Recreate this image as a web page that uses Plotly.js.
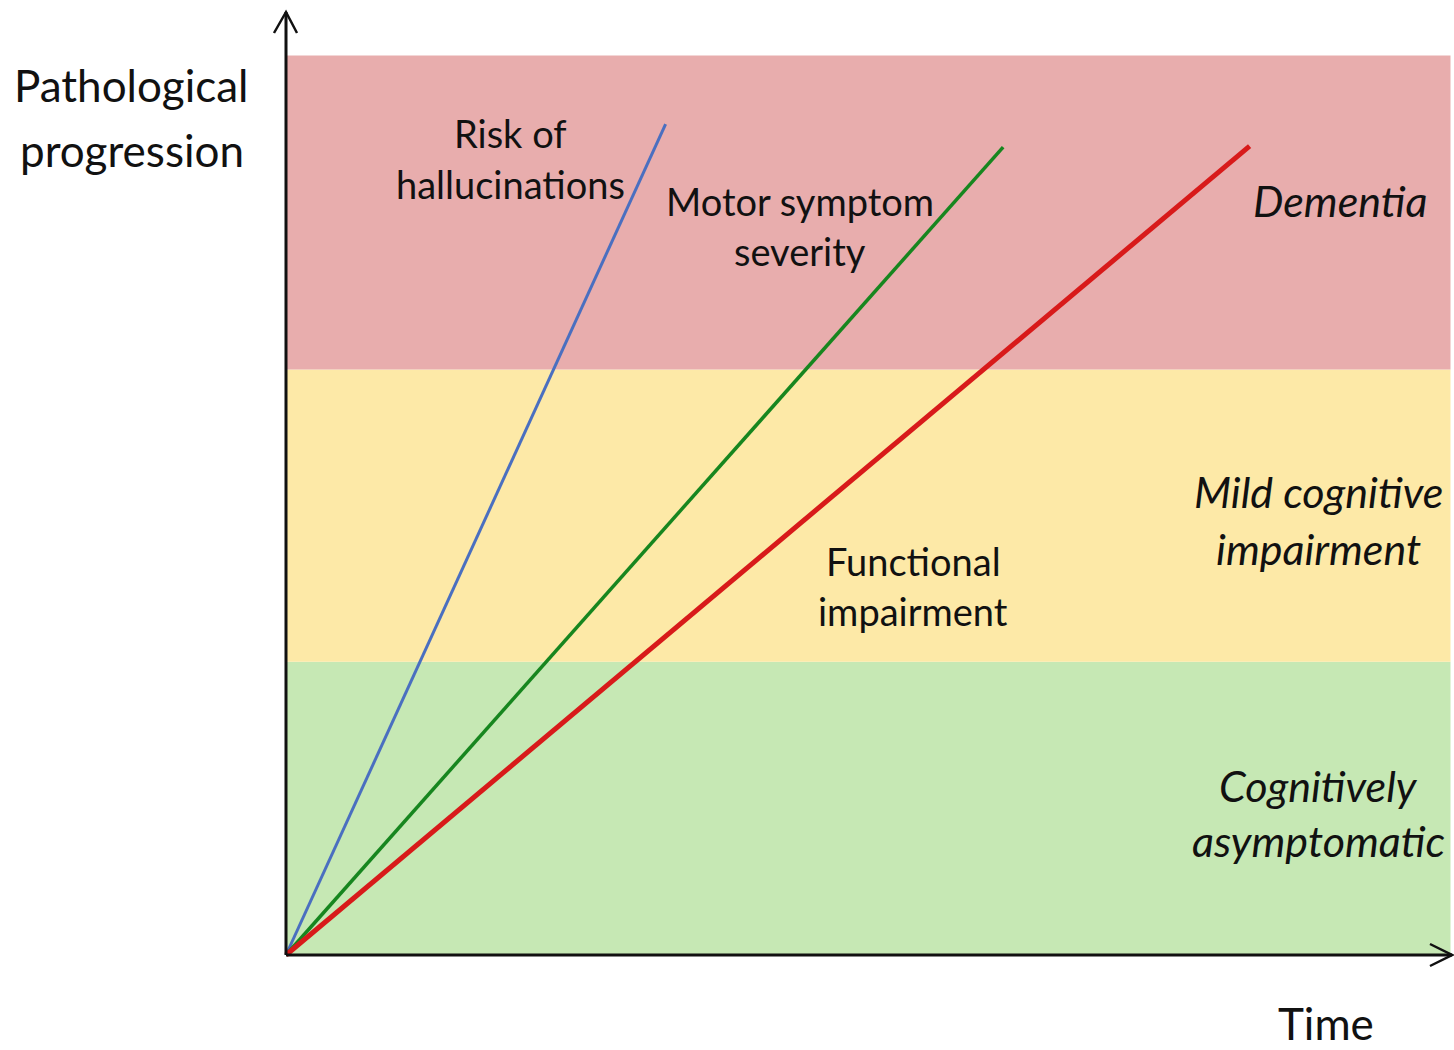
<!DOCTYPE html>
<html><head><meta charset="utf-8">
<script src="https://cdn.plot.ly/plotly-3.0.1.min.js"></script>
<style>html,body{margin:0;padding:0;background:#fff}#chart{width:1454px;height:1050px}</style>
</head><body><div id="chart"></div>
<script>
// Conceptual data (arbitrary units: time 0-10, progression 0-10)
const seriesNames = ["Risk of hallucinations", "Motor symptom severity", "Functional impairment"];
const seriesTime = [[0, 3.25], [0, 6.14], [0, 8.25]];
const seriesValue = [[0, 8.70], [0, 8.46], [0, 8.47]];
const seriesColors = ["#4a6fc0", "#17861f", "#d81a1a"];
const seriesWidths = [3, 3.5, 5];

const stageNames = ["Cognitively asymptomatic", "Mild cognitive impairment", "Dementia"];
const stageBounds = [0, 3.07, 6.13, 9.42];
const stageColors = ["#c6e8b4", "#fde9a7", "#e8adad"];
const stageEnd = 9.97;

// pixel scale: origin at (286, 955), 116.8 px per time unit, 95.5 px per progression unit
const X0 = 286, XPX = 116.8, Y0 = 955, YPX = 95.5, W = 1454, H = 1050;
const dx = p => p / XPX, dy = p => p / YPX;

const traces = seriesNames.map((n, i) => ({
  type: "scatter", mode: "lines", name: n,
  x: seriesTime[i], y: seriesValue[i],
  line: {color: seriesColors[i], width: seriesWidths[i]},
  hoverinfo: "name", cliponaxis: false
}));

const shapes = [];
stageNames.forEach((s, i) => {
  shapes.push({type: "rect", xref: "x", yref: "y", layer: "below",
    x0: 0, x1: stageEnd, y0: stageBounds[i], y1: stageBounds[i + 1],
    fillcolor: stageColors[i], line: {width: 0}});
});
const yTop = dy(Y0 - 12), xEnd = dx(1452 - X0);
const axisLine = {color: "#111", width: 3};
shapes.push({type: "line", xref: "x", yref: "y", x0: 0, y0: 0, x1: 0, y1: yTop, line: axisLine});
shapes.push({type: "line", xref: "x", yref: "y", x0: 0, y0: 0, x1: xEnd, y1: 0, line: axisLine});
shapes.push({type: "path", xref: "x", yref: "y", line: {color: "#111", width: 2.5},
  path: `M ${-dx(12)} ${yTop - dy(21)} L 0 ${yTop} L ${dx(11)} ${yTop - dy(21)}`});
shapes.push({type: "path", xref: "x", yref: "y", line: {color: "#111", width: 2.5},
  path: `M ${xEnd - dx(22)} ${dy(11)} L ${xEnd} 0 L ${xEnd - dx(22)} ${-dy(11)}`});

const FONT = "Lato, 'Open Sans', sans-serif";
const labelLines = [
  ["Risk of", 1.92, 8.61, false, 38],
  ["hallucinations", 1.92, 8.07, false, 38],
  ["Motor symptom", 4.40, 7.90, false, 38],
  ["severity", 4.40, 7.37, false, 38],
  ["Functional", 5.37, 4.13, false, 38],
  ["impairment", 5.37, 3.60, false, 38],
  ["Dementia", 9.02, 7.90, true, 43],
  ["Mild cognitive", 8.84, 4.85, true, 43],
  ["impairment", 8.84, 4.26, true, 43],
  ["Cognitively", 8.84, 1.78, true, 43],
  ["asymptomatic", 8.84, 1.20, true, 43],
  ["Pathological", -1.32, 9.11, false, 44],
  ["progression", -1.32, 8.43, false, 44],
  ["Time", 8.90, -0.71, false, 44]
];
const annotations = labelLines.map(([t, x, y, it, sz]) => ({
  text: it ? `<i>${t}</i>` : t, x, y, xref: "x", yref: "y",
  showarrow: false, xanchor: "center", yanchor: "middle",
  font: {family: FONT, size: sz, color: "#111"}
}));

const axisCommon = {showgrid: false, zeroline: false, showticklabels: false, ticks: "", showline: false, fixedrange: true};
Plotly.newPlot("chart", traces, {
  width: W, height: H,
  margin: {l: 0, r: 0, t: 0, b: 0, pad: 0},
  paper_bgcolor: "#fff", plot_bgcolor: "#fff",
  showlegend: false,
  xaxis: Object.assign({range: [-dx(X0), dx(W - X0)]}, axisCommon),
  yaxis: Object.assign({range: [-dy(H - Y0), dy(Y0)]}, axisCommon),
  shapes, annotations
}, {displayModeBar: false, staticPlot: true});
</script></body></html>
